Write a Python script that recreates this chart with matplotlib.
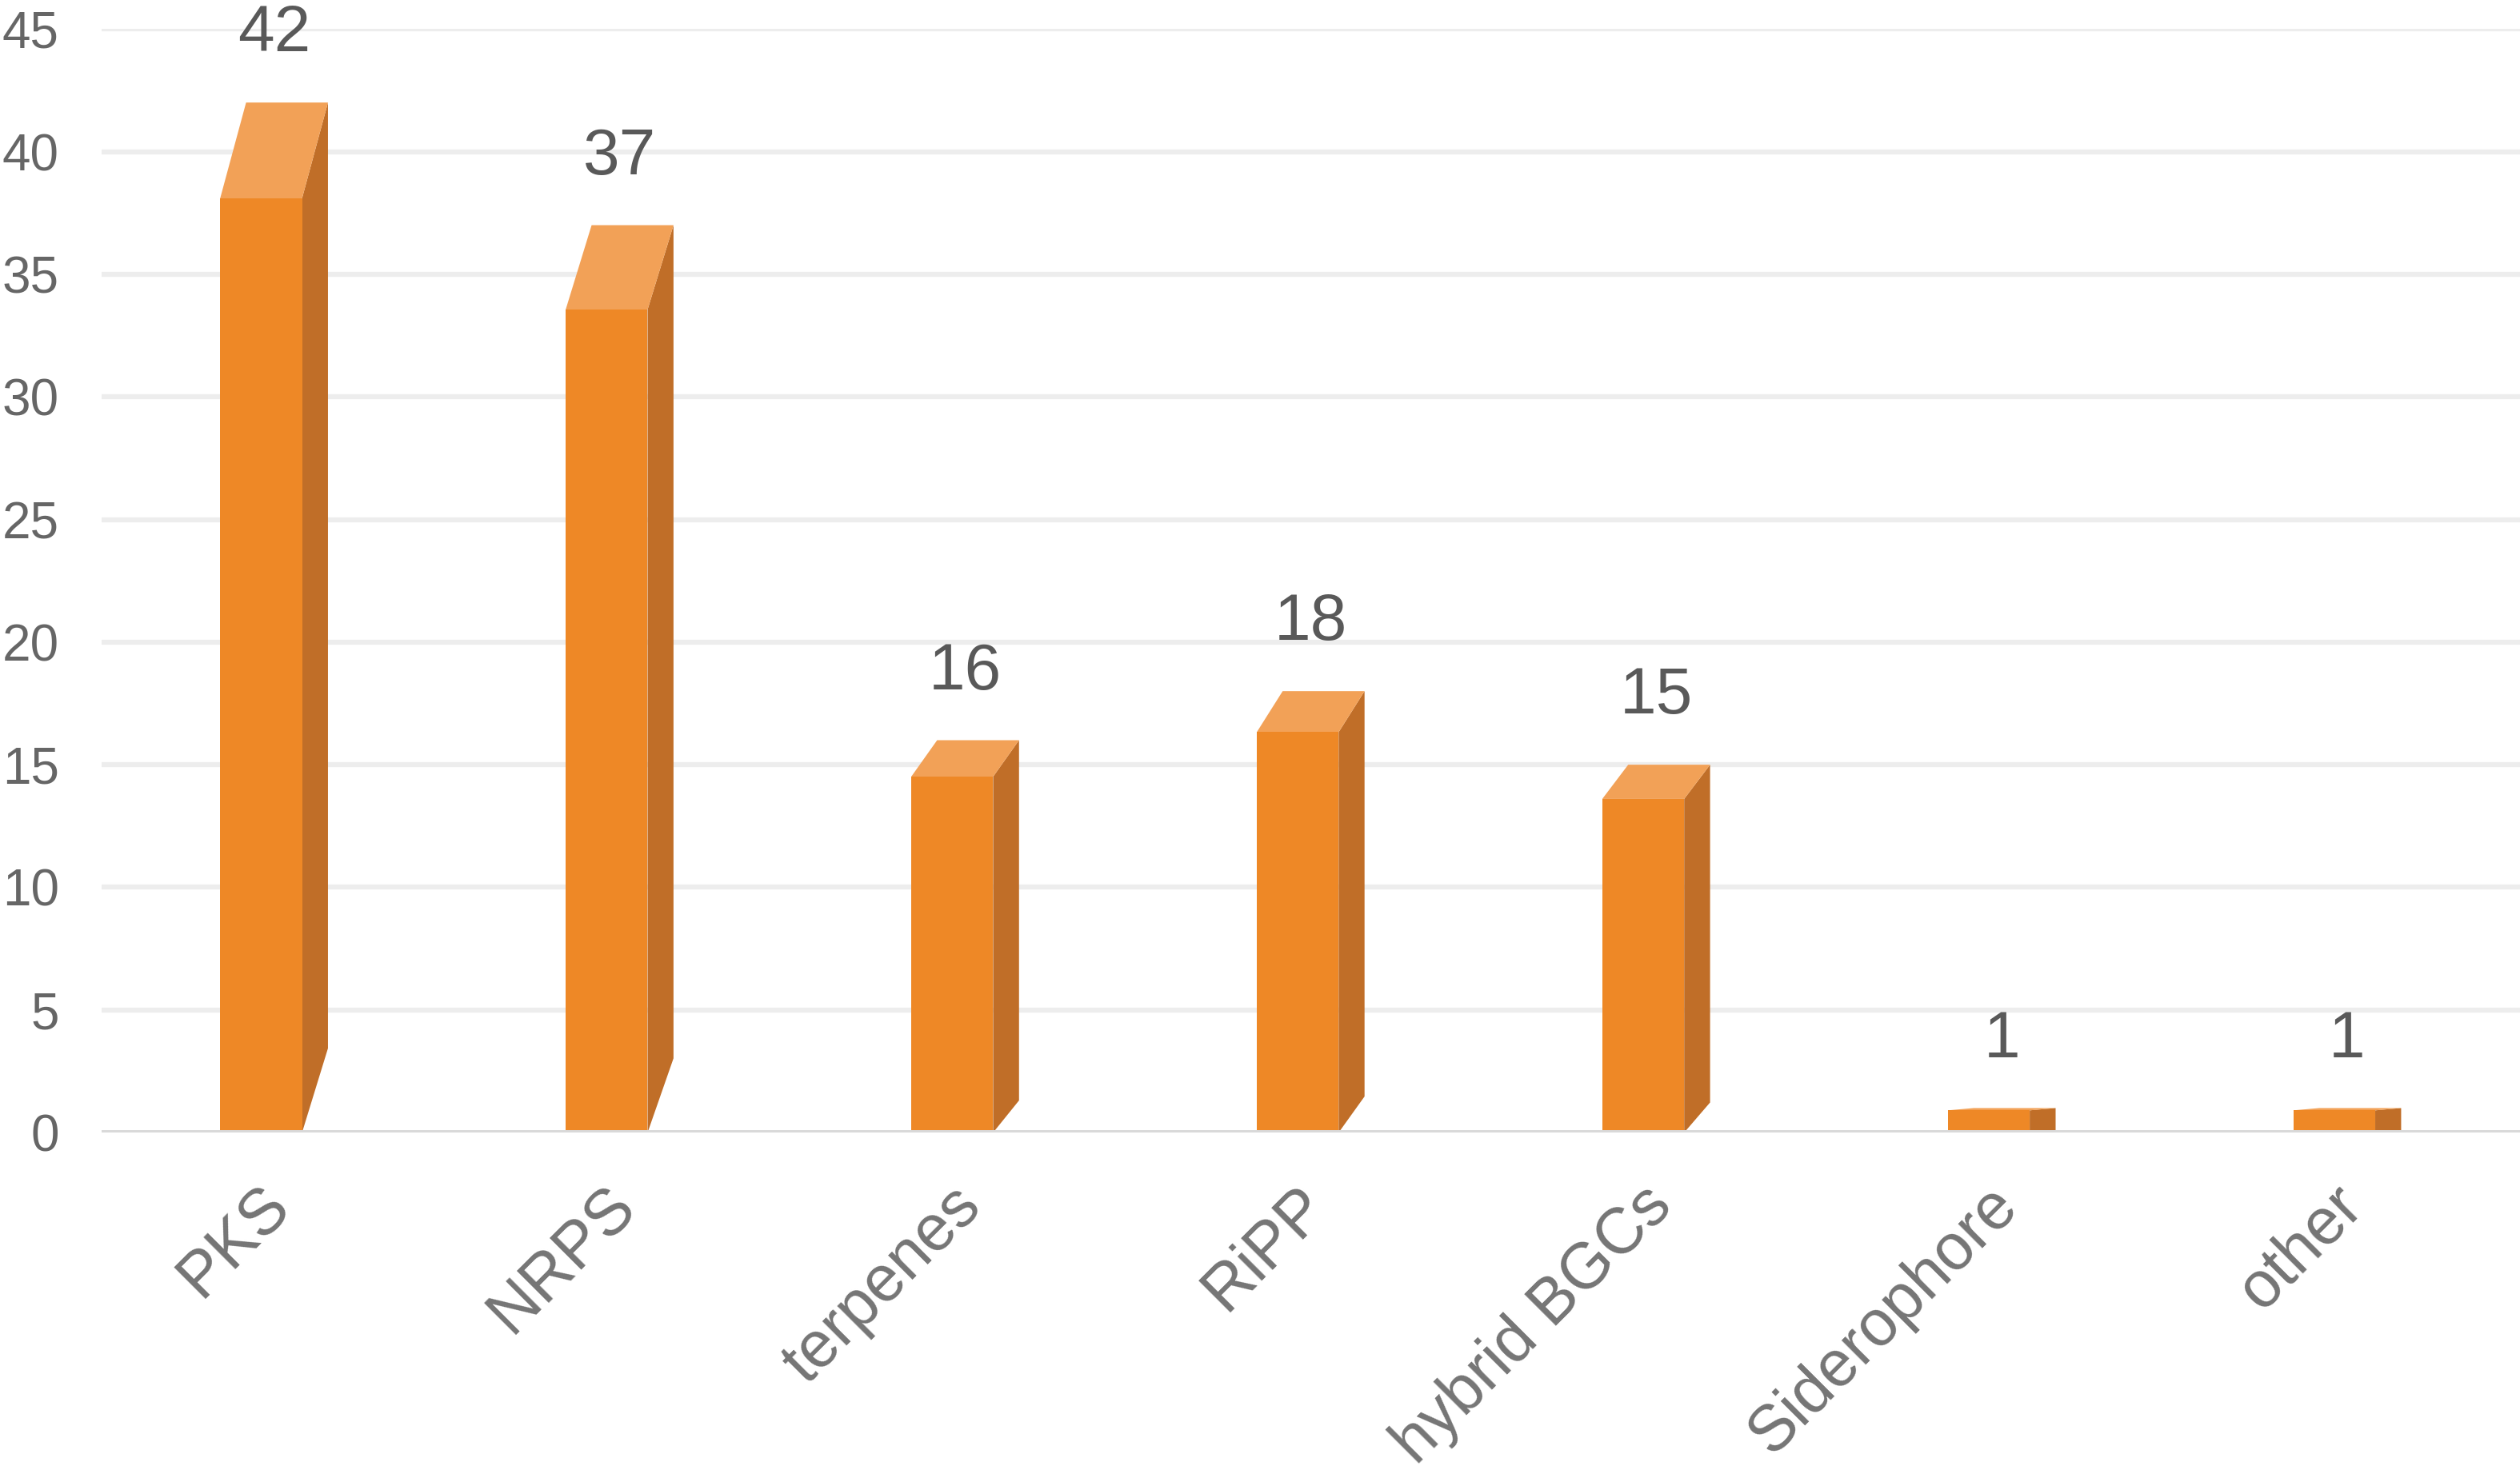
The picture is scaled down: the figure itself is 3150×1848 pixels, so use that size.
import numpy as np
import matplotlib
matplotlib.use('Agg')
import matplotlib.pyplot as plt

plt.rcParams['font.family'] = ['Liberation Sans', 'DejaVu Sans']

# data
categories = ['PKS', 'NRPS', 'terpenes', 'RiPP', 'hybrid BGCs', 'Siderophore', 'other']
counts = [42, 37, 16, 18, 15, 1, 1]
yticks = [0, 5, 10, 15, 20, 25, 30, 35, 40, 45]

# 3d look of the bars (Excel style)
front_col = '#EE8826'
top_col = '#F2A157'
side_col = '#C06E28'
k_front = 0.907      # front face height relative to the value
x_left = -0.156      # front face left edge relative to category centre
x_right = 0.081      # front face right edge
depth_dx = 0.075     # horizontal depth offset

fig = plt.figure(figsize=(31.5, 18.48), dpi=100)
ax = fig.add_axes([0.0402, 0.2337, 0.9598, 0.7467])
ax.set_xlim(-0.5, 6.5)
ax.set_ylim(0, 45)

for y in yticks[1:]:
    ax.axhline(y, color='#EDEDED', lw=4.5, zorder=0)
ax.axhline(0, color='#D9D9D9', lw=5, zorder=3)

x = np.arange(len(categories))
for xi, v in zip(x, counts):
    hf = k_front * v
    dy_top = v - hf
    dy_bot = 0.88 * dy_top
    l = xi + x_left
    r = xi + x_right
    # side face
    ax.fill([r, r + depth_dx, r + depth_dx, r], [0, dy_bot, v, hf],
            color=side_col, lw=0, zorder=2)
    # top face
    ax.fill([l, r, r + depth_dx, l + depth_dx], [hf, hf, v, v],
            color=top_col, lw=0, zorder=2)
    # front face
    ax.fill([l, r, r, l], [0, 0, hf, hf], color=front_col, lw=0, zorder=2)
    ax.annotate(str(v), (xi, v), xytext=(0, 61), textcoords='offset points',
                ha='center', va='center', fontsize=59, color='#595959')

ax.set_yticks(yticks)
ax.set_yticklabels([str(t) for t in yticks], fontsize=46, color='#666666')
ax.set_xticks(x + 0.08)
ax.set_xticklabels(categories, rotation=45, ha='right', va='top',
                   fontsize=58, color='#757575')
ax.tick_params(axis='y', length=0, pad=38)
ax.tick_params(axis='x', length=0, pad=38)
for s in ax.spines.values():
    s.set_visible(False)

fig.savefig('out.png', dpi=100, facecolor='white')
